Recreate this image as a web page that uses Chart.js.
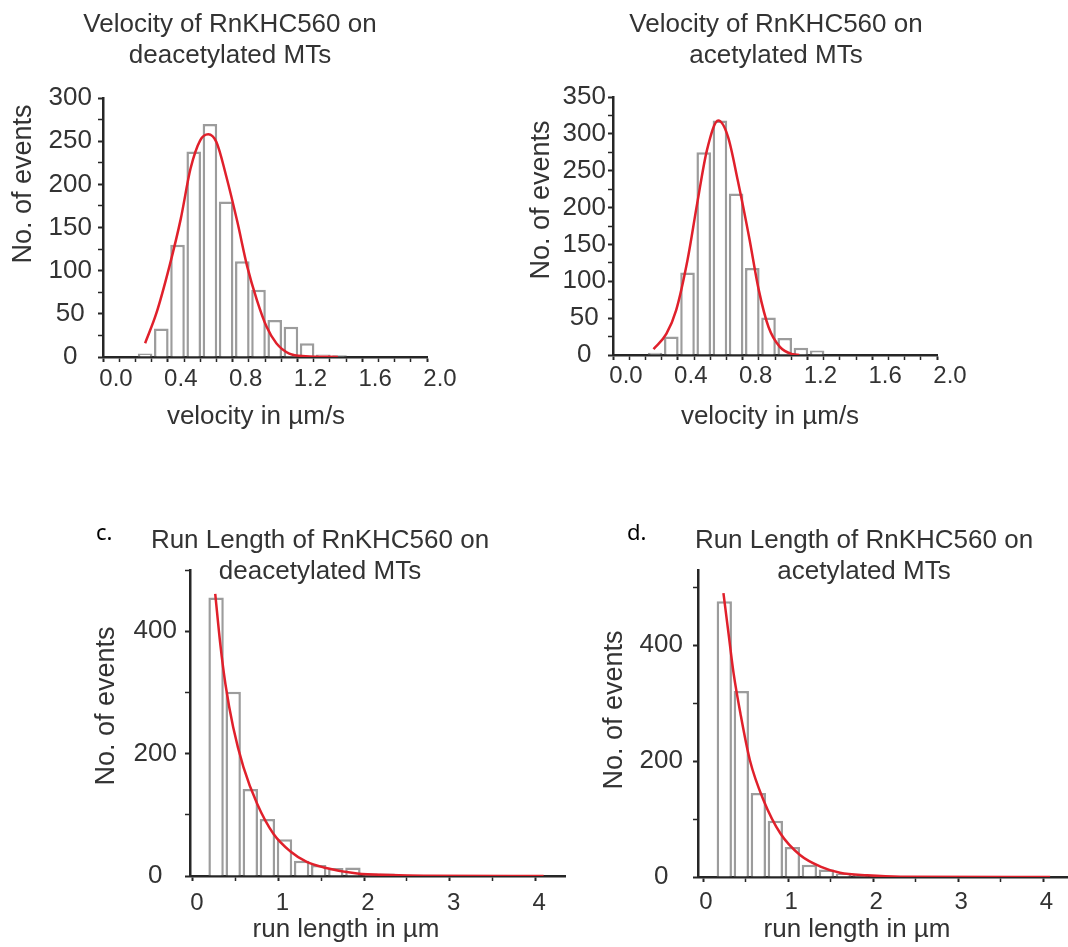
<!DOCTYPE html>
<html>
<head>
<meta charset="utf-8">
<script src="https://cdn.jsdelivr.net/npm/chart.js@4.4.1/dist/chart.umd.min.js"></script>
<style>
  html, body { margin: 0; padding: 0; background: #fff; }
  #page { position: relative; width: 1068px; height: 947px; overflow: hidden;
          font-family: 'Liberation Sans', Arial, sans-serif; color: #333; }
  canvas { position: absolute; }
  .cap { position: absolute; font-size: 26px; white-space: nowrap; text-align: center; }
  .title { width: 420px; line-height: 31px; }
  .xt { width: 300px; height: 30px; line-height: 30px; }
  .yt { width: 240px; height: 30px; line-height: 30px; font-size: 27px; transform: rotate(-90deg); }
  .tag { position: absolute; font-family: 'Noto Sans', sans-serif; font-size: 22px; color: #000; }
</style>
</head>
<body>
<div id="page">
  <canvas id="velDeac" width="460" height="440" style="left:0;top:0"></canvas>
  <canvas id="velAc" width="548" height="440" style="left:520px;top:0"></canvas>
  <canvas id="runDeac" width="580" height="447" style="left:0;top:500px"></canvas>
  <canvas id="runAc" width="488" height="447" style="left:580px;top:500px"></canvas>

  <div class="cap title" style="left:20px;top:8px">Velocity of RnKHC560 on<br>deacetylated MTs</div>
  <div class="cap title" style="left:566px;top:8px">Velocity of RnKHC560 on<br>acetylated MTs</div>
  <div class="cap title" style="left:110px;top:524px">Run Length of RnKHC560 on<br>deacetylated MTs</div>
  <div class="cap title" style="left:654px;top:524px">Run Length of RnKHC560 on<br>acetylated MTs</div>

  <div class="tag" style="left:96px;top:516px">c.</div>
  <div class="tag" style="left:627px;top:516px">d.</div>

  <div class="cap xt" style="left:106px;top:400px">velocity in µm/s</div>
  <div class="cap xt" style="left:620px;top:400px">velocity in µm/s</div>
  <div class="cap xt" style="left:196px;top:913px">run length in µm</div>
  <div class="cap xt" style="left:707px;top:913px">run length in µm</div>

  <div class="cap yt" style="left:-98px;top:169px">No. of events</div>
  <div class="cap yt" style="left:420px;top:185px">No. of events</div>
  <div class="cap yt" style="left:-15px;top:691px">No. of events</div>
  <div class="cap yt" style="left:493px;top:695px">No. of events</div>
</div>

<script>
// velocity histograms (bin centre in µm/s, number of events)
const velBins = [0.26, 0.36, 0.46, 0.56, 0.66, 0.76, 0.86, 0.96, 1.06, 1.16, 1.26, 1.36, 1.46];
const velDeacCounts = [4, 33, 130, 238, 270, 180, 111, 78, 43, 35, 16, 3, 2];
const velAcCounts = [3, 25, 112, 275, 318, 219, 118, 51, 23, 10, 6];

// gaussian fits, points
const velDeacFitX = [0.26, 0.33, 0.41, 0.48, 0.54, 0.60, 0.65, 0.70, 0.76, 0.83, 0.89, 0.95, 1.01, 1.07, 1.15, 1.25, 1.45];
const velDeacFitY = [16, 51, 105, 160, 218, 251, 258, 249, 210, 156, 105, 66, 35, 16, 4, 1, 0];
const velAcFitX = [0.25, 0.33, 0.39, 0.46, 0.52, 0.58, 0.65, 0.71, 0.77, 0.84, 0.90, 0.96, 1.03, 1.11, 1.15];
const velAcFitY = [8, 29, 61, 129, 206, 278, 318, 296, 237, 160, 88, 38, 11, 1, 0];

// run length histograms (bin centre in µm)
const runBinsDeac = [0.27, 0.47, 0.67, 0.87, 1.07, 1.27, 1.47, 1.67, 1.87, 2.07, 2.27, 2.47];
const runDeacCounts = [455, 301, 142, 93, 60, 25, 18, 13, 14, 4, 4, 2];
const runBinsAc = [0.25, 0.45, 0.65, 0.85, 1.05, 1.25, 1.45, 1.65, 1.85, 2.05, 2.25];
const runAcCounts = [476, 321, 145, 97, 52, 21, 13, 6, 5, 3, 1];

// exponential fits
const runDeacFitX = [0.26, 0.32, 0.38, 0.47, 0.59, 0.75, 0.94, 1.14, 1.33, 1.53, 1.92, 2.31, 2.7, 4.1];
const runDeacFitY = [461, 378, 313, 243, 178, 118, 69, 40, 23, 14, 4, 1.6, 0.5, 0];
const runAcFitX = [0.24, 0.30, 0.36, 0.44, 0.55, 0.71, 0.91, 1.14, 1.38, 1.61, 1.93, 2.32, 4.08];
const runAcFitY = [490, 420, 351, 282, 202, 133, 75, 38, 18, 7.5, 3, 0.5, 0];

// axis ticks
const velTicks = [0, 0.1, 0.2, 0.3, 0.4, 0.5, 0.6, 0.7, 0.8, 0.9, 1, 1.1, 1.2, 1.3, 1.4, 1.5, 1.6, 1.7, 1.8, 1.9, 2];
const velLabels = [0, 0.4, 0.8, 1.2, 1.6, 2];
const runTicks = [0, 0.5, 1, 1.5, 2, 2.5, 3, 3.5, 4];
const runLabels = [0, 1, 2, 3, 4];
const velDeacYTicks = [0, 25, 50, 75, 100, 125, 150, 175, 200, 225, 250, 275, 300];
const velAcYTicks = [0, 25, 50, 75, 100, 125, 150, 175, 200, 225, 250, 275, 300, 325, 350];
const velYLabels = [0, 50, 100, 150, 200, 250, 300, 350];
const runYTicks = [0, 100, 200, 300, 400, 500];
const runYLabels = [0, 200, 400];

const FONT = 'Liberation Sans';
const TEXT = '#333';
const AXIS = '#262626';
const RED = '#e0202b';

const pts = (xs, ys) => ys.map((y, i) => ({ x: xs[i], y: y }));

function panel(id, o) {
    new Chart(document.getElementById(id), {
        type: 'bar',
        data: {
            datasets: [
                {
                    type: 'line',
                    data: pts(o.fitX, o.fitY),
                    borderColor: RED,
                    borderWidth: 2.5,
                    pointRadius: 0,
                    cubicInterpolationMode: 'monotone',
                    order: 0
                },
                {
                    type: 'bar',
                    data: pts(o.bins, o.counts),
                    backgroundColor: '#fff',
                    borderColor: '#9c9c9c',
                    borderWidth: 2.5,
                    barPercentage: 0.9,
                    categoryPercentage: 1,
                    order: 1
                }
            ]
        },
        options: {
            responsive: false,
            animation: false,
            layout: { autoPadding: false, padding: o.pad },
            plugins: { legend: { display: false }, tooltip: { enabled: false } },
            scales: {
                x: {
                    type: 'linear',
                    min: o.xMin,
                    max: o.xMax,
                    offset: false,
                    afterBuildTicks: s => { s.ticks = o.xTicks.map(v => ({ value: v })); },
                    afterFit: s => { s.height = o.xH; },
                    grid: {
                        offset: false,
                        drawOnChartArea: false,
                        tickLength: 5,
                        tickColor: AXIS,
                        tickWidth: c => o.xLabels.includes(c.tick.value) ? 2 : 1.5
                    },
                    border: { color: AXIS, width: 2.5 },
                    ticks: {
                        autoSkip: false,
                        maxRotation: 0,
                        labelOffset: o.xShift,
                        padding: o.xPad,
                        color: TEXT,
                        font: { family: FONT, size: 24 },
                        callback: v => o.xLabels.includes(v) ? o.fmt(v) : ''
                    }
                },
                y: {
                    min: 0,
                    max: o.yMax,
                    afterBuildTicks: s => { s.ticks = o.yTicks.map(v => ({ value: v })); },
                    afterFit: s => { s.width = o.yW; },
                    grid: {
                        drawOnChartArea: false,
                        tickLength: 5,
                        tickColor: AXIS,
                        tickWidth: c => o.yLabels.includes(c.tick.value) ? 2 : 1.5
                    },
                    border: { color: AXIS, width: 2.5 },
                    ticks: {
                        autoSkip: false,
                        crossAlign: 'center',
                        padding: o.yPad,
                        color: TEXT,
                        font: { family: FONT, size: 26 },
                        callback: v => o.yLabels.includes(v) ? String(v) : ''
                    }
                }
            }
        }
    });
}

const one = v => v.toFixed(1);
const int = v => String(v);

panel('velDeac', {
    bins: velBins, counts: velDeacCounts, fitX: velDeacFitX, fitY: velDeacFitY,
    xMin: 0, xMax: 2, xTicks: velTicks, xLabels: velLabels, fmt: one, xShift: 13, xPad: 3,
    yMax: 300, yTicks: velDeacYTicks, yLabels: velYLabels, yPad: 6,
    pad: { left: 0, top: 98, right: 33, bottom: 0 }, yW: 103, xH: 83
});

panel('velAc', {
    bins: velBins, counts: velAcCounts, fitX: velAcFitX, fitY: velAcFitY,
    xMin: 0, xMax: 2, xTicks: velTicks, xLabels: velLabels, fmt: one, xShift: 13, xPad: 2,
    yMax: 350, yTicks: velAcYTicks, yLabels: velYLabels, yPad: 2,
    pad: { left: 0, top: 97, right: 131, bottom: 0 }, yW: 93, xH: 85
});

panel('runDeac', {
    bins: runBinsDeac, counts: runDeacCounts, fitX: runDeacFitX, fitY: runDeacFitY,
    xMin: -0.035, xMax: 4.35, xTicks: runTicks, xLabels: runLabels, fmt: int, xShift: 4, xPad: 8,
    yMax: 500, yTicks: runYTicks, yLabels: runYLabels, yPad: 8,
    pad: { left: 0, top: 70, right: 15, bottom: 0 }, yW: 190, xH: 71
});

panel('runAc', {
    bins: runBinsAc, counts: runAcCounts, fitX: runAcFitX, fitY: runAcFitY,
    xMin: -0.059, xMax: 4.29, xTicks: runTicks, xLabels: runLabels, fmt: int, xShift: 3, xPad: 6,
    yMax: 530, yTicks: runYTicks, yLabels: runYLabels, yPad: 10,
    pad: { left: 0, top: 70, right: 0, bottom: 0 }, yW: 118, xH: 70
});
</script>
</body>
</html>
